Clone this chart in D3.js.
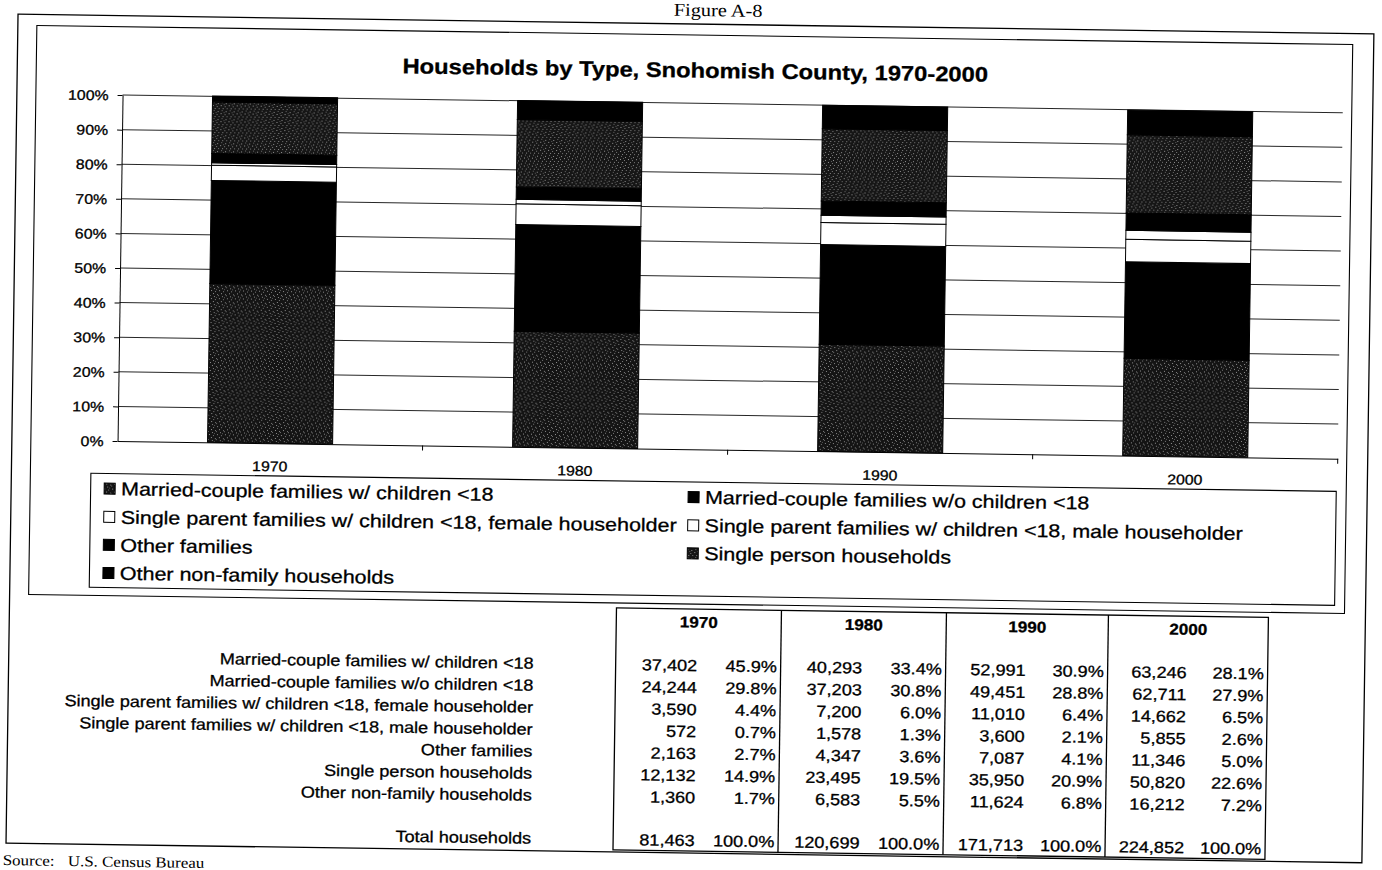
<!DOCTYPE html>
<html>
<head>
<meta charset="utf-8">
<script src="https://cdn.jsdelivr.net/npm/d3@7"></script>
<style>
  html, body { margin: 0; padding: 0; background: #fff; overflow: hidden; }
  svg { display: block; }
  text { font-family: "Liberation Sans", Arial, Helvetica, sans-serif; fill: #000; }
  text.ink { stroke: #000; stroke-width: 0.3px; }
  .serif { font-family: "Liberation Serif", "Times New Roman", serif; }
</style>
</head>
<body>
<svg id="fig" width="1382" height="870"></svg>
<script>
// ---- Data: households by type, Snohomish County ----
const years = ["1970", "1980", "1990", "2000"];
const householdTypes = [
  "Married-couple families w/ children <18",
  "Married-couple families w/o children <18",
  "Single parent families w/ children <18, female householder",
  "Single parent families w/ children <18, male householder",
  "Other families",
  "Single person households",
  "Other non-family households"
];
const counts1970 = [37402, 24244, 3590, 572, 2163, 12132, 1360];
const counts1980 = [40293, 37203, 7200, 1578, 4347, 23495, 6583];
const counts1990 = [52991, 49451, 11010, 3600, 7087, 35950, 11624];
const counts2000 = [63246, 62711, 14662, 5855, 11346, 50820, 16212];
const pct1970 = [45.9, 29.8, 4.4, 0.7, 2.7, 14.9, 1.7];
const pct1980 = [33.4, 30.8, 6.0, 1.3, 3.6, 19.5, 5.5];
const pct1990 = [30.9, 28.8, 6.4, 2.1, 4.1, 20.9, 6.8];
const pct2000 = [28.1, 27.9, 6.5, 2.6, 5.0, 22.6, 7.2];
const totalHouseholds = [81463, 120699, 171713, 224852];
const yTicks = [0, 10, 20, 30, 40, 50, 60, 70, 80, 90, 100];

const countsByYear = [counts1970, counts1980, counts1990, counts2000];
const pctByYear = [pct1970, pct1980, pct1990, pct2000];

// ---- Styling ----
const SX = 1.13;   // horizontal stretch applied to lettering
const segFill = ["url(#speckA)", "#000", "#fff", "#fff", "#000", "url(#speckB)", "#000"];

const svg = d3.select("#fig");

// stipple fills for the two patterned series
const defs = svg.append("defs");
function speckle(id, base, dots) {
  const p = defs.append("pattern").attr("id", id)
    .attr("patternUnits", "userSpaceOnUse").attr("width", 8).attr("height", 8);
  p.append("rect").attr("width", 8).attr("height", 8).attr("fill", base);
  dots.forEach(([dx, dy, c]) => p.append("rect").attr("x", dx).attr("y", dy)
    .attr("width", 1).attr("height", 1).attr("fill", c));
}
speckle("speckA", "#141414", [[1,1,"#8a8a8a"],[5,2,"#7a7a7a"],[3,4,"#909090"],[7,5,"#808080"],
  [0,6,"#6c6c6c"],[4,7,"#858585"],[6,0,"#5a5a5a"]]);
speckle("speckB", "#161616", [[0,0,"#959595"],[4,1,"#7c7c7c"],[2,3,"#8b8b8b"],[6,3,"#787878"],
  [1,5,"#6a6a6a"],[5,6,"#909090"],[3,7,"#5c5c5c"]]);

// whole sheet is drawn slightly tilted, as it sits on the page
const page = svg.append("g").attr("transform", "rotate(0.83, 691, 435)");

function txt(sel, x, y, str, o = {}) {
  return sel.append("text")
    .attr("transform", `translate(${x},${y}) scale(${o.sx || SX},1)`)
    .attr("text-anchor", o.anchor || "start")
    .attr("class", o.cls || "ink")
    .style("font-size", (o.size || 14) + "px")
    .style("font-weight", o.weight || "normal")
    .text(str);
}

// ---- Frames ----
txt(page, 712, 16, "Figure A-8", { anchor: "middle", size: 18, cls: "serif" });
page.append("rect").attr("x", 12).attr("y", 24).attr("width", 1356).attr("height", 829)
  .attr("fill", "none").attr("stroke", "#000").attr("stroke-width", 1.3);
page.append("rect").attr("x", 31).attr("y", 35).attr("width", 1316).attr("height", 569)
  .attr("fill", "none").attr("stroke", "#000").attr("stroke-width", 1.1);

// ---- Title ----
txt(page, 690, 77.5, "Households by Type, Snohomish County, 1970-2000",
  { anchor: "middle", size: 21, weight: "bold" });

// ---- Plot ----
const plot = { left: 117.7, right: 1338, top: 103.3, bottom: 449.3 };
const x = d3.scaleBand().domain(years).range([plot.left, plot.right])
  .paddingInner(0.59).paddingOuter(0.295);
const y = d3.scaleLinear().domain([0, 100]).range([plot.bottom, plot.top]);

// gridlines
page.append("g").selectAll("line").data(yTicks.filter(d => d > 0)).join("line")
  .attr("x1", plot.left).attr("x2", plot.right)
  .attr("y1", d => y(d)).attr("y2", d => y(d))
  .attr("stroke", "#262626").attr("stroke-width", 1);

// stacked bars
const rows = years.map((yr, i) => {
  const r = { year: yr };
  householdTypes.forEach((k, j) => { r[k] = pctByYear[i][j]; });
  return r;
});
const stacked = d3.stack().keys(householdTypes)(rows);
page.append("g").selectAll("g").data(stacked).join("g")
  .attr("fill", (s, i) => segFill[i])
  .selectAll("rect").data(s => s).join("rect")
  .attr("x", d => x(d.data.year))
  .attr("width", x.bandwidth())
  .attr("y", d => y(d[1]))
  .attr("height", d => y(d[0]) - y(d[1]))
  .attr("stroke", "#000").attr("stroke-width", 1);

// y axis
const yAxis = page.append("g").attr("transform", `translate(${plot.left},0)`)
  .call(d3.axisLeft(y).tickValues(yTicks).tickFormat(d => d + "%").tickSize(5).tickSizeOuter(0));
yAxis.select(".domain").attr("stroke", "#000");
yAxis.selectAll(".tick line").attr("stroke", "#000");
yAxis.selectAll(".tick text")
  .attr("x", null).attr("dy", null).attr("class", "ink")
  .attr("transform", `translate(-14,5) scale(${SX},1)`)
  .style("font-size", "14px").attr("fill", "#000");
yAxis.attr("font-family", null).attr("font-size", null);

// x axis
const xAxis = page.append("g").attr("transform", `translate(0,${plot.bottom})`)
  .call(d3.axisBottom(x).tickSize(0).tickSizeOuter(0).tickPadding(18));
xAxis.select(".domain").attr("stroke", "#000");
xAxis.selectAll(".tick text")
  .attr("y", null).attr("dy", null).attr("class", "ink")
  .attr("transform", `translate(0,28) scale(${SX},1)`)
  .style("font-size", "14px").attr("fill", "#000");
xAxis.attr("font-family", null).attr("font-size", null);
page.append("g").selectAll("line").data(d3.range(1, years.length + 1)).join("line")
  .attr("x1", i => plot.left + i * x.step()).attr("x2", i => plot.left + i * x.step())
  .attr("y1", plot.bottom).attr("y2", plot.bottom + 5)
  .attr("stroke", "#000");

// ---- Legend ----
const legend = page.append("g");
legend.append("rect").attr("x", 91.5).attr("y", 482).attr("width", 1245.5).attr("height", 114)
  .attr("fill", "#fff").attr("stroke", "#000").attr("stroke-width", 1.1);
const legCols = [105, 689];
const legRows = [497, 525.3, 553.3, 581.4];
householdTypes.forEach((name, i) => {
  const cx = legCols[i % 2], cy = legRows[Math.floor(i / 2)];
  legend.append("rect").attr("x", cx).attr("y", cy - 5.5).attr("width", 11).attr("height", 11)
    .attr("fill", segFill[i]).attr("stroke", "#000").attr("stroke-width", 1);
  txt(legend, cx + 17, cy + 6.6, name, { size: 18.5, sx: 1.16 });
});

// ---- Data table ----
const table = page.append("g");
const colEdges = [619, 784, 949, 1111, 1271];
const tTop = 609, tBottom = 851;
table.append("rect").attr("x", colEdges[0]).attr("y", tTop)
  .attr("width", colEdges[4] - colEdges[0]).attr("height", tBottom - tTop)
  .attr("fill", "none").attr("stroke", "#000").attr("stroke-width", 1.3);
table.selectAll("line.div").data(colEdges.slice(1, 4)).join("line")
  .attr("x1", d => d).attr("x2", d => d).attr("y1", tTop).attr("y2", tBottom)
  .attr("stroke", "#000").attr("stroke-width", 1.3);

const rowBase = householdTypes.map((_, i) => 671 + 22 * i);
const totalBase = 846;
const fmtCount = d3.format(",");
const fmtPct = d => d.toFixed(1) + "%";

householdTypes.forEach((name, i) => txt(table, 537, rowBase[i], name, { anchor: "end", size: 16 }));
txt(table, 537, totalBase, "Total households", { anchor: "end", size: 16 });

years.forEach((yr, c) => {
  const l = colEdges[c], r = colEdges[c + 1], mid = (l + r) / 2;
  txt(table, mid, 627.5, yr, { anchor: "middle", size: 15.5, weight: "bold", sx: 1.1 });
  countsByYear[c].forEach((v, i) => {
    txt(table, mid - 1, rowBase[i], fmtCount(v), { anchor: "end", size: 16 });
    txt(table, r - 3.8, rowBase[i], fmtPct(pctByYear[c][i]), { anchor: "end", size: 16 });
  });
  txt(table, mid - 1, totalBase, fmtCount(totalHouseholds[c]), { anchor: "end", size: 16 });
  txt(table, r - 3.8, totalBase, "100.0%", { anchor: "end", size: 16 });
});

// ---- Source line ----
txt(page, 9, 875, "Source:", { size: 15, cls: "serif" });
txt(page, 74, 875, "U.S. Census Bureau", { size: 15, cls: "serif" });
</script>
</body>
</html>
